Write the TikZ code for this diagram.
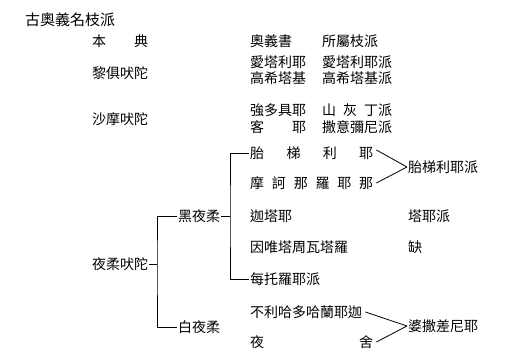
\documentclass[tikz,border=0pt]{standalone}
\usepackage{fontspec}
\newfontfamily\vdcjk{Noto Sans CJK TC}
\usepackage{tikz}
\usetikzlibrary{positioning,calc}
\newcommand\vdspread[2]{\makebox[#1][s]{#2}}
\tikzset{
  vdtxt/.style={anchor=west,inner sep=1pt,font=\vdcjk\fontsize{14}{16}\selectfont},
  vdtitle/.style={anchor=west,inner sep=1pt,font=\vdcjk\fontsize{15}{17}\selectfont},
  vdtree/.style={line width=0.8pt},
}
\begin{document}
\begin{tikzpicture}[x=1pt,y=-1pt]
\useasboundingbox (0,0) rectangle (509,355);
 % header rows
\node[vdtitle] (title) at (24,20) {古奧義名枝派};
\node[vdtxt] (benji) at (91,41) {本　　典};
\node[vdtxt] (aoyi) at (249,41) {奧義書};
\node[vdtxt] (suoshu) at (321,41) {所屬枝派};
 % rig veda
\node[vdtxt] (rig) at (91,73) {黎俱吠陀};
\node[vdtxt] (aita) at (249,62) {愛塔利耶};
\node[vdtxt] (gaoxi) at (249,78) {高希塔基};
\node[vdtxt] (aitapai) at (321,62) {愛塔利耶派};
\node[vdtxt] (gaoxipai) at (321,78) {高希塔基派};
 % sama veda
\node[vdtxt] (sama) at (91,119) {沙摩吠陀};
\node[vdtxt] (qiang) at (249,110) {強多具耶};
\node[vdtxt] (keye) at (249,127) {\vdspread{56pt}{客\hfill 耶}};
\node[vdtxt] (shanpai) at (321,110) {\vdspread{70pt}{山\hfill 灰\hfill 丁派}};
\node[vdtxt] (sapai) at (321,127) {撒意彌尼派};
 % yajur veda
\node[vdtxt] (yajur) at (91,264) {夜柔吠陀};
\node[vdtxt] (hei) at (177,216) {黑夜柔};
\node[vdtxt] (bai) at (177,327) {白夜柔};
\node[vdtxt] (tai) at (249,153) {\vdspread{123pt}{胎\hfill 梯\hfill 利\hfill 耶}};
\node[vdtxt] (mohe) at (249,183) {\vdspread{123pt}{摩\hfill 訶\hfill 那\hfill 羅\hfill 耶\hfill 那}};
\node[vdtxt] (jiata) at (249,216) {迦塔耶};
\node[vdtxt] (yinwei) at (249,247) {因唯塔周瓦塔羅};
\node[vdtxt] (meituo) at (249,279) {每托羅耶派};
\node[vdtxt] (buli) at (249,312) {不利哈多哈蘭耶迦};
\node[vdtxt] (yeshe) at (249,342) {\vdspread{123pt}{夜\hfill 舍}};
\node[vdtxt] (taipai) at (407,167) {胎梯利耶派};
\node[vdtxt] (tayepai) at (407,216) {塔耶派};
\node[vdtxt] (que) at (407,247) {缺};
\node[vdtxt] (posa) at (407,326) {婆撒差尼耶};
 % tree joints
\coordinate (j1) at (157,264);
\coordinate (j2) at (230,216);
\draw[vdtree] (yajur.east) -- (j1);
\draw[vdtree] (hei.west) -| (j1) |- (bai.west);
\draw[vdtree] (hei.east) -- (j2);
\draw[vdtree] (tai.west) -| (j2) |- (meituo.west);
 % merges into schools
\draw[vdtree] ($(tai.east)+(2,-3)$) -- (taipai.west);
\draw[vdtree] ($(mohe.east)+(2,0)$) -- (taipai.west);
\draw[vdtree] ($(buli.east)+(2,0)$) -- (posa.west);
\draw[vdtree] ($(yeshe.east)+(2,0)$) -- (posa.west);
\end{tikzpicture}
\end{document}
